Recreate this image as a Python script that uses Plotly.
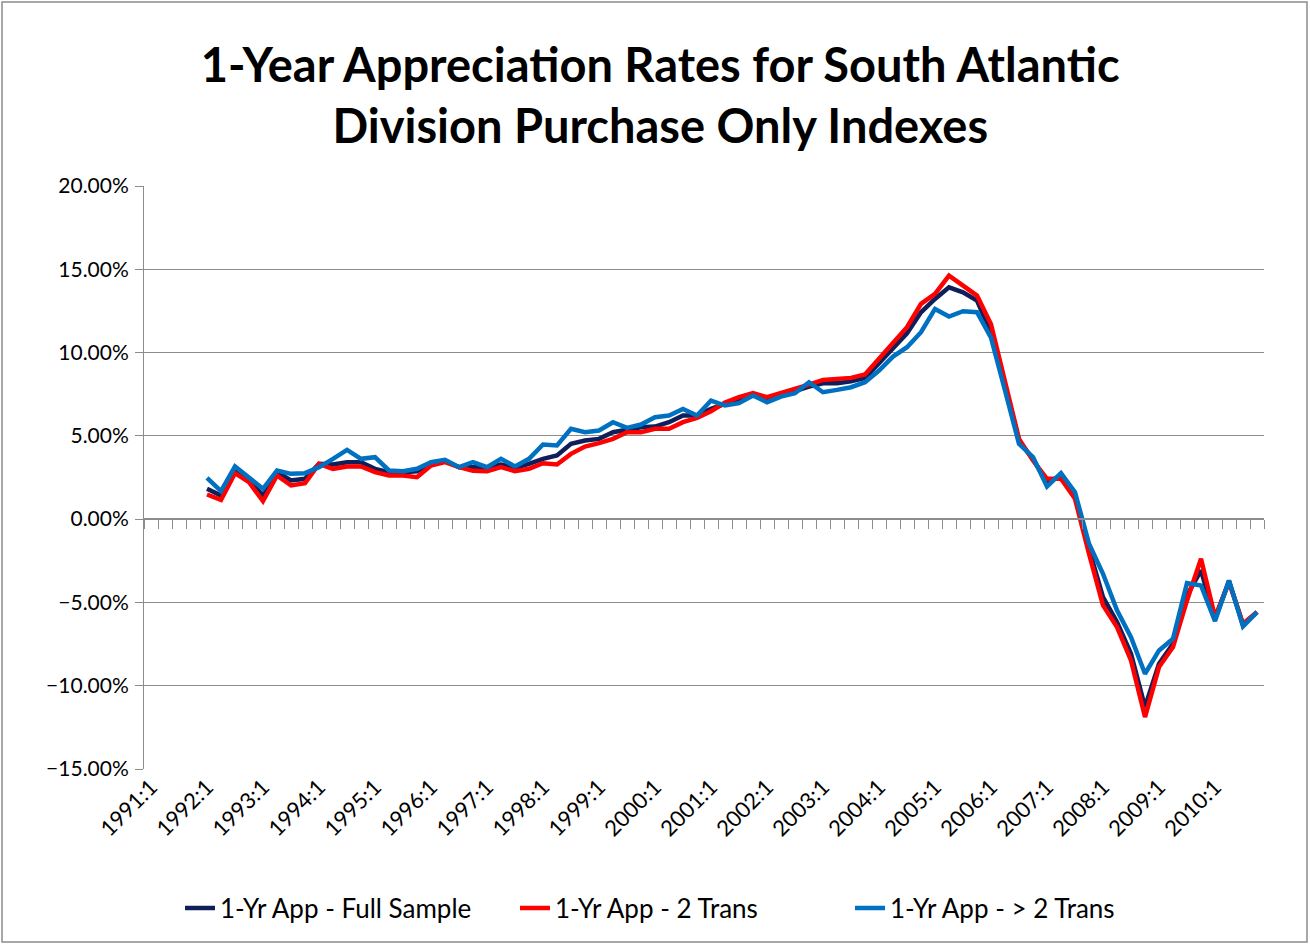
import plotly.graph_objects as go

years = list(range(1991, 2011))
quarters = [f"{y}:{q}" for y in years for q in range(1, 5)]
tick_labels = [f"{y}:1" for y in years]

# 1-yr appreciation (%), 1992:1 .. 2010:4
full_sample = [
    1.82, 1.42, 2.92, 2.32, 1.42, 2.82, 2.32, 2.42, 3.32, 3.28, 3.42, 3.42, 3.02, 2.82, 2.82, 2.88, 3.32, 3.52, 3.12, 3.15,
    3.12, 3.28, 3.08, 3.32, 3.62, 3.82, 4.52, 4.72, 4.82, 5.22, 5.36, 5.52, 5.56, 5.82, 6.22, 6.22, 6.62, 6.95,
    7.22, 7.52, 7.28, 7.42, 7.72, 7.96, 8.16, 8.16, 8.28, 8.48, 9.36, 10.28, 11.16, 12.42, 13.22, 13.92, 13.62, 13.12, 11.2,
    8.0, 4.7, 3.6, 2.2, 2.6, 1.4, -1.78, -4.68, -6.18, -8.08, -11.28, -8.68, -7.48, -4.58, -3.08, -6.0, -3.72, -6.35, -5.58,
]
two_trans = [
    1.48, 1.16, 2.76, 2.22, 1.08, 2.62, 2.02, 2.16, 3.32, 3.02, 3.16, 3.16, 2.82, 2.62, 2.62, 2.52, 3.22, 3.42, 3.12, 2.9,
    2.88, 3.12, 2.88, 3.02, 3.36, 3.28, 3.92, 4.36, 4.56, 4.82, 5.22, 5.22, 5.42, 5.42, 5.82, 6.08, 6.48, 7.0,
    7.32, 7.56, 7.32, 7.56, 7.82, 8.08, 8.36, 8.42, 8.48, 8.68, 9.62, 10.62, 11.52, 12.92, 13.52, 14.62, 14.02, 13.42, 11.7,
    8.32, 4.82, 3.52, 2.42, 2.42, 1.22, -2.08, -5.18, -6.48, -8.48, -11.88, -8.88, -7.68, -4.88, -2.38, -5.88, -3.78, -6.28, -5.58,
]
more_trans = [
    2.48, 1.68, 3.16, 2.52, 1.82, 2.92, 2.72, 2.76, 3.12, 3.62, 4.16, 3.62, 3.72, 2.92, 2.88, 3.02, 3.42, 3.56, 3.12, 3.42,
    3.12, 3.62, 3.16, 3.62, 4.48, 4.42, 5.42, 5.22, 5.32, 5.82, 5.48, 5.68, 6.12, 6.22, 6.62, 6.22, 7.12, 6.82,
    6.96, 7.42, 7.02, 7.36, 7.56, 8.22, 7.62, 7.76, 7.92, 8.22, 8.92, 9.76, 10.32, 11.22, 12.62, 12.16, 12.48, 12.42, 10.9,
    7.72, 4.52, 3.72, 1.96, 2.76, 1.62, -1.48, -3.28, -5.48, -7.08, -9.28, -7.88, -7.18, -3.84, -3.98, -6.12, -3.68, -6.44, -5.58,
]
data_quarters = quarters[4:]

FONT = "Lato"
GRID = "#8c8c8c"

fig = go.Figure()
fig.add_trace(go.Scatter(x=data_quarters, y=full_sample, mode="lines",
                         name="1-Yr App - Full Sample", line=dict(color="#0f1f5a", width=4.5)))
fig.add_trace(go.Scatter(x=data_quarters, y=two_trans, mode="lines",
                         name="1-Yr App - 2 Trans", line=dict(color="#ff0000", width=4.5)))
# drawn on the overlaying axis (the one at zero), so it sits on top
fig.add_trace(go.Scatter(x=data_quarters, y=more_trans, mode="lines", xaxis="x2",
                         name="1-Yr App - > 2 Trans", line=dict(color="#0070c0", width=4.5)))

W, H = 1310, 944
L, R, T, B = 144, 46, 186, 175

fig.update_layout(
    width=W, height=H,
    margin=dict(l=L, r=R, t=T, b=B),
    paper_bgcolor="white", plot_bgcolor="white",
    font=dict(family=FONT, color="#000000"),
    title=dict(
        text="1-Year Appreciation Rates for South Atlantic<br>Division Purchase Only Indexes",
        font=dict(family=FONT, size=47, color="#000000", weight="bold"),
        x=0.504, xanchor="center", xref="container",
        y=0.913, yanchor="top", yref="container",
    ),
    showlegend=True,
    legend=dict(
        orientation="h", xref="container", x=0.521, xanchor="center",
        yref="container", y=0.038, yanchor="middle",
        font=dict(family=FONT, size=26), itemwidth=30,
        entrywidth=290, entrywidthmode="pixels",
    ),
    xaxis=dict(
        type="category", categoryorder="array", categoryarray=quarters,
        range=[-0.5, len(quarters) - 0.5],
        tickmode="array", tickvals=tick_labels, ticktext=tick_labels,
        tickangle=-45, ticks="", showline=False, showgrid=False, zeroline=False,
        tickfont=dict(family=FONT, size=22),
    ),
    xaxis2=dict(
        type="category", categoryorder="array", categoryarray=quarters,
        range=[-0.5, len(quarters) - 0.5],
        overlaying="x", anchor="free", position=15 / 35, side="bottom",
        showline=True, linecolor=GRID, linewidth=1.5,
        ticks="outside", tickson="boundaries", ticklen=9, tickcolor=GRID, tickwidth=1,
        tickmode="linear", tick0=0, dtick=1,
        showticklabels=False, showgrid=False, zeroline=False,
    ),
    yaxis=dict(
        range=[-15, 20], tickmode="linear", tick0=-15, dtick=5,
        tickformat=".2f", ticksuffix="%",
        showgrid=True, gridcolor=GRID, gridwidth=1,
        showline=True, linecolor=GRID, linewidth=1,
        ticks="outside", ticklen=8, tickcolor=GRID, ticklabelstandoff=2,
        zeroline=False, tickfont=dict(family=FONT, size=21),
    ),
)

# chart area border
fig.add_shape(type="rect", xref="paper", yref="paper",
              x0=(2 - L) / (W - L - R), x1=(W - 3 - L) / (W - L - R),
              y0=-(B - 2) / (H - T - B), y1=1 + (T - 2) / (H - T - B),
              line=dict(color="#8c8c8c", width=1.5), layer="below")

fig.write_html("out.html", config={"displayModeBar": False},
               post_script="document.body.style.margin='0';")
